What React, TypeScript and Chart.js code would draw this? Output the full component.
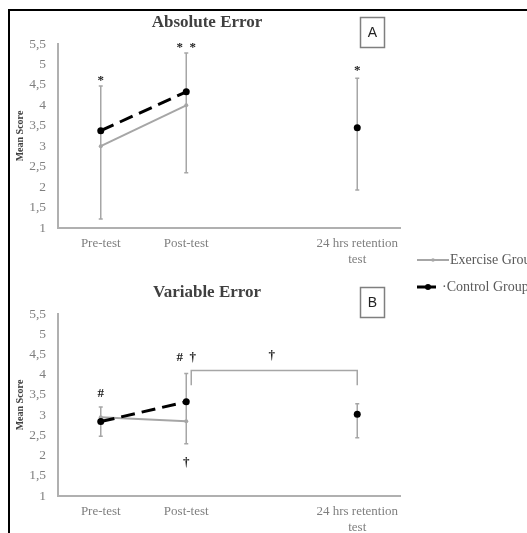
import React, { useEffect, useRef } from 'react';
import { Chart, registerables } from 'chart.js';

Chart.register(...registerables);

// ---------- data ----------
const categories: (string | string[])[] = ['Pre-test', 'Post-test', '', ['24 hrs retention', 'test']];
const yMin = 1;
const yMax = 5.5;
const yStep = 0.5;

// Panel A – Absolute Error
const absExercise = [3.0, 4.0, null, null];
const absControl = [3.38, 4.33, null, 3.45];
const absErrLow = [1.22, 2.35, null, 1.93];
const absErrHigh = [4.47, 5.28, null, 4.66];
const absMarkCats = [0, 1, 3];
const absMarkValues = [4.6, 5.42, 4.84];
const absMarkTexts = ['*', '*  *', '*'];

// Panel B – Variable Error
const varExercise = [2.95, 2.85, null, null];
const varControl = [2.84, 3.33, null, 3.02];
const varErrLow = [2.48, 2.29, null, 2.44];
const varErrHigh = [3.2, 4.03, null, 3.28];
const varMarkCats = [0, 1, 1, 2];
const varMarkValues = [3.52, 4.42, 1.82, 4.46];
const varMarkTexts = ['#', '#  †', '†', '†'];
const varBracketFrom = 1;
const varBracketTo = 3;
const varBracketTop = 4.1;
const varBracketFoot = 3.74;

const legendLabels = ['Exercise Group', '·Control Group'];

// ---------- styles ----------
const GREY = '#a6a6a6';
const TICK = '#7f7f7f';
const SERIF = '"Liberation Serif", "DejaVu Serif", serif';

type PanelCfg = {
  title: string;
  letter: string;
  exercise: (number | null)[];
  control: (number | null)[];
  errLow: (number | null)[];
  errHigh: (number | null)[];
  markCats: number[];
  markValues: number[];
  markTexts: string[];
  bracket?: { from: number; to: number; top: number; foot: number };
  legend?: boolean;
  width: number;
  height: number;
  padTop: number;
  xHeight: number;
  titleY: number;
  boxY: number;
};

function makePlugin(cfg: PanelCfg) {
  return {
    id: 'panelDecor' + cfg.letter,
    beforeDatasetsDraw(chart: any) {
      const ctx = chart.ctx;
      const xs = chart.scales.x;
      const ys = chart.scales.y;
      ctx.save();
      ctx.strokeStyle = GREY;
      ctx.lineWidth = 1.5;
      for (let i = 0; i < cfg.errLow.length; i++) {
        const lo = cfg.errLow[i];
        const hi = cfg.errHigh[i];
        if (lo == null || hi == null) continue;
        const x = xs.getPixelForValue(i);
        const y1 = ys.getPixelForValue(lo);
        const y2 = ys.getPixelForValue(hi);
        ctx.beginPath();
        ctx.moveTo(x, y1);
        ctx.lineTo(x, y2);
        ctx.moveTo(x - 2, y1);
        ctx.lineTo(x + 2, y1);
        ctx.moveTo(x - 2, y2);
        ctx.lineTo(x + 2, y2);
        ctx.stroke();
      }
      if (cfg.bracket) {
        const b = cfg.bracket;
        const xa = xs.getPixelForValue(b.from) + 5;
        const xb = xs.getPixelForValue(b.to);
        const yt = ys.getPixelForValue(b.top);
        const yf = ys.getPixelForValue(b.foot);
        ctx.beginPath();
        ctx.moveTo(xa, yf);
        ctx.lineTo(xa, yt);
        ctx.lineTo(xb, yt);
        ctx.lineTo(xb, yf);
        ctx.stroke();
      }
      ctx.restore();
    },
    afterDatasetsDraw(chart: any) {
      const ctx = chart.ctx;
      const xs = chart.scales.x;
      const ys = chart.scales.y;
      const area = chart.chartArea;
      ctx.save();
      // marks
      ctx.fillStyle = '#222';
      ctx.font = `bold 13px ${SERIF}`;
      ctx.textAlign = 'center';
      ctx.textBaseline = 'middle';
      for (let i = 0; i < cfg.markTexts.length; i++) {
        ctx.fillText(cfg.markTexts[i], xs.getPixelForValue(cfg.markCats[i]), ys.getPixelForValue(cfg.markValues[i]));
      }
      // title
      ctx.fillStyle = '#404040';
      ctx.font = `bold 17px ${SERIF}`;
      ctx.fillText(cfg.title, 207, cfg.titleY);
      // y title
      ctx.save();
      ctx.translate(20, (area.top + area.bottom) / 2);
      ctx.rotate(-Math.PI / 2);
      ctx.font = `bold 10px ${SERIF}`;
      ctx.fillStyle = '#404040';
      ctx.fillText('Mean Score', 0, 0);
      ctx.restore();
      // letter box
      ctx.strokeStyle = '#7f7f7f';
      ctx.lineWidth = 1.5;
      ctx.strokeRect(360.5, cfg.boxY + 0.5, 24, 30);
      ctx.fillStyle = '#222';
      ctx.font = '14px "Liberation Sans", Arial, sans-serif';
      ctx.fillText(cfg.letter, 372.5, cfg.boxY + 16);
      // legend
      if (cfg.legend) {
        const y1 = 12;
        const y2 = 39;
        ctx.strokeStyle = GREY;
        ctx.lineWidth = 2;
        ctx.beginPath();
        ctx.moveTo(417, y1);
        ctx.lineTo(449, y1);
        ctx.stroke();
        ctx.fillStyle = GREY;
        ctx.beginPath();
        ctx.arc(433, y1, 1.8, 0, Math.PI * 2);
        ctx.fill();
        ctx.strokeStyle = '#000';
        ctx.lineWidth = 3;
        ctx.beginPath();
        ctx.moveTo(417, y2);
        ctx.lineTo(436, y2);
        ctx.stroke();
        ctx.fillStyle = '#000';
        ctx.beginPath();
        ctx.arc(428, y2, 3, 0, Math.PI * 2);
        ctx.fill();
        ctx.fillStyle = '#595959';
        ctx.font = `14px ${SERIF}`;
        ctx.textAlign = 'left';
        ctx.fillText(legendLabels[0], 450, y1);
        ctx.fillText(legendLabels[1], 442, y2);
      }
      ctx.restore();
    },
  };
}

function Panel({ cfg }: { cfg: PanelCfg }) {
  const ref = useRef<HTMLCanvasElement | null>(null);
  useEffect(() => {
    if (!ref.current) return;
    const chart = new Chart(ref.current, {
      type: 'line',
      data: {
        labels: categories,
        datasets: [
          {
            label: 'Control Group',
            data: cfg.control,
            borderColor: '#000',
            backgroundColor: '#000',
            borderWidth: 3,
            borderDash: [14, 7],
            pointRadius: 3.5,
            pointBackgroundColor: '#000',
            pointBorderWidth: 0,
            spanGaps: false,
          },
          {
            label: 'Exercise Group',
            data: cfg.exercise,
            borderColor: GREY,
            backgroundColor: GREY,
            borderWidth: 2,
            pointRadius: 2,
            pointBackgroundColor: GREY,
            pointBorderWidth: 0,
            spanGaps: false,
          },
        ],
      },
      options: {
        responsive: false,
        animation: false,
        layout: { padding: { left: 0, right: 127, top: cfg.padTop, bottom: 0 } },
        plugins: { legend: { display: false }, tooltip: { enabled: false }, title: { display: false } },
        scales: {
          x: {
            type: 'category',
            offset: true,
            grid: { display: false, drawTicks: false },
            border: { display: true, color: '#b0b0b0', width: 2 },
            ticks: {
              color: TICK,
              font: { family: SERIF, size: 13 },
              padding: 8,
              autoSkip: false,
              maxRotation: 0,
            },
            afterFit: (s: any) => {
              s.height = cfg.xHeight;
            },
          },
          y: {
            min: yMin,
            max: yMax,
            grid: { display: false, drawTicks: false },
            border: { display: true, color: '#b0b0b0', width: 2 },
            ticks: {
              stepSize: yStep,
              color: TICK,
              font: { family: SERIF, size: 13.5 },
              padding: 12,
              callback: (v: any) => String(v).replace('.', ','),
            },
            afterFit: (s: any) => {
              s.width = 58;
            },
          },
        },
      },
      plugins: [makePlugin(cfg)],
    } as any);
    return () => chart.destroy();
  }, [cfg]);
  return <canvas ref={ref} width={cfg.width} height={cfg.height} style={{ width: cfg.width, height: cfg.height, display: 'block' }} />;
}

const cfgA: PanelCfg = {
  title: 'Absolute Error',
  letter: 'A',
  exercise: absExercise,
  control: absControl,
  errLow: absErrLow,
  errHigh: absErrHigh,
  markCats: absMarkCats,
  markValues: absMarkValues,
  markTexts: absMarkTexts,
  width: 527,
  height: 266,
  padTop: 44,
  xHeight: 38,
  titleY: 23,
  boxY: 17,
};

const cfgB: PanelCfg = {
  title: 'Variable Error',
  letter: 'B',
  exercise: varExercise,
  control: varControl,
  errLow: varErrLow,
  errHigh: varErrHigh,
  markCats: varMarkCats,
  markValues: varMarkValues,
  markTexts: varMarkTexts,
  bracket: { from: varBracketFrom, to: varBracketTo, top: varBracketTop, foot: varBracketFoot },
  legend: true,
  width: 527,
  height: 285,
  padTop: 66,
  xHeight: 37,
  titleY: 293 - 248,
  boxY: 287 - 248,
};

export default function App() {
  return (
    <div style={{ position: 'fixed', left: 0, top: 0, width: 527, height: 533, background: '#fff', overflow: 'hidden' }}>
      <div style={{ position: 'absolute', left: 0, top: 0 }}>
        <Panel cfg={cfgA} />
      </div>
      <div style={{ position: 'absolute', left: 0, top: 248 }}>
        <Panel cfg={cfgB} />
      </div>
      <div
        style={{
          position: 'absolute',
          left: 8,
          top: 9,
          width: 530,
          height: 540,
          borderTop: '2px solid #000',
          borderLeft: '2px solid #000',
          pointerEvents: 'none',
        }}
      />
    </div>
  );
}
